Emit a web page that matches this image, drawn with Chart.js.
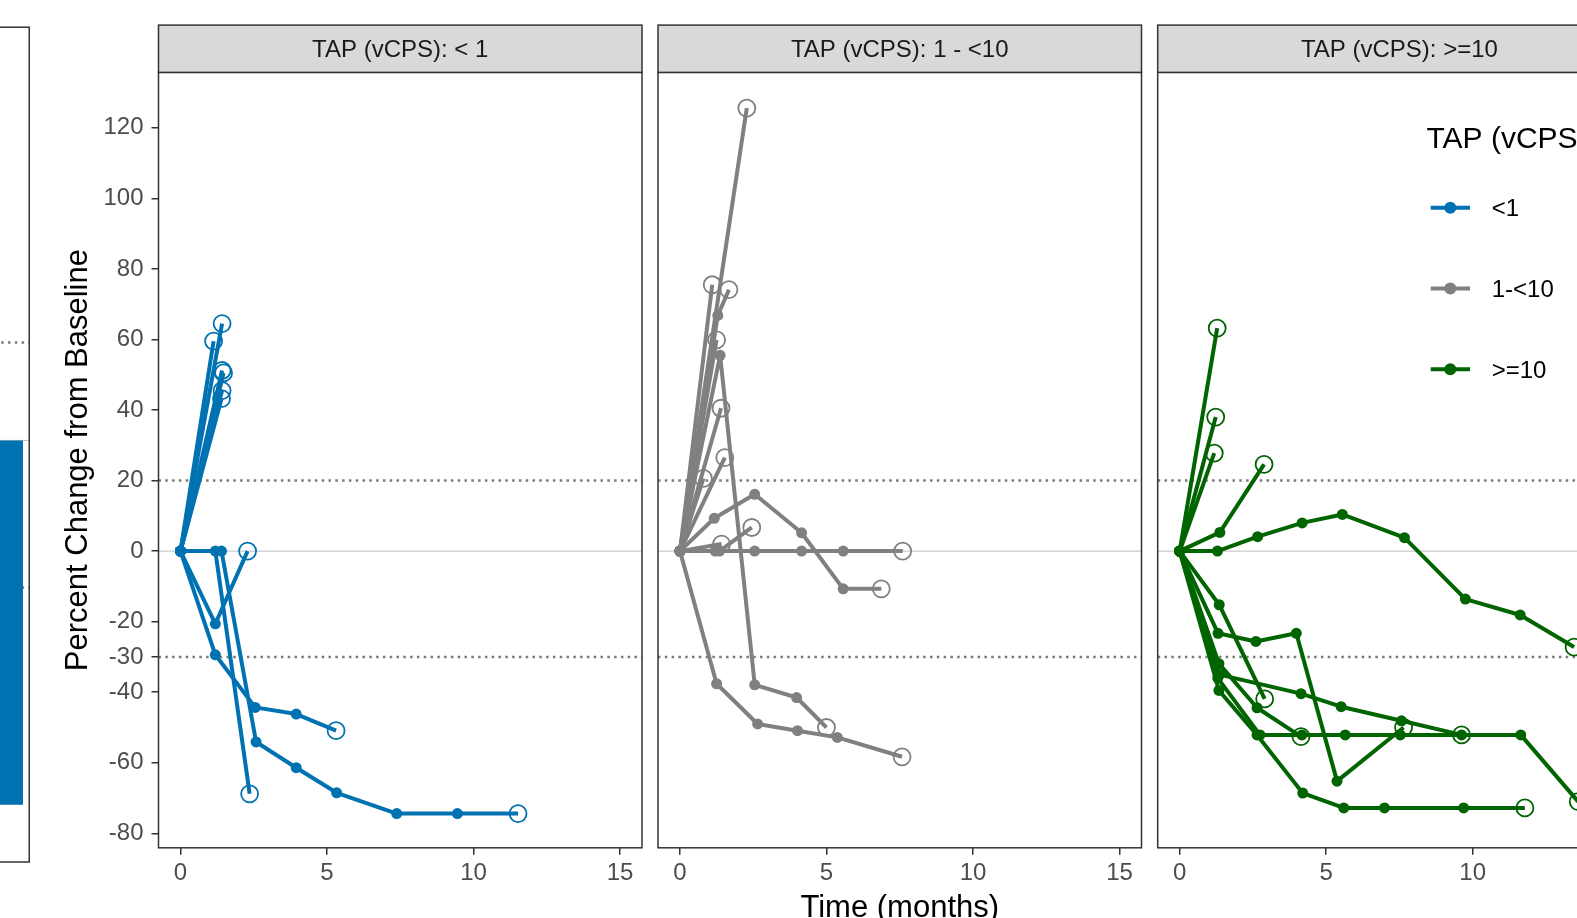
<!DOCTYPE html>
<html>
<head>
<meta charset="utf-8">
<script src="https://cdn.jsdelivr.net/npm/chart.js@4.4.1/dist/chart.umd.min.js"></script>
<style>
  html, body { margin: 0; padding: 0; background: #fff; overflow: hidden; width: 1577px; height: 918px; }
  canvas { position: absolute; top: 0; }
</style>
</head>
<body>
<canvas id="bars" width="90" height="918" style="left:-60px"></canvas>
<canvas id="p1" width="1700" height="960" style="left:0"></canvas>
<canvas id="p2" width="1700" height="960" style="left:0"></canvas>
<canvas id="p3" width="1700" height="960" style="left:0"></canvas>
<script>
// --- data ---
const xTicks = [0, 5, 10, 15];
const yTicks = [120, 100, 80, 60, 40, 20, 0, -20, -30, -40, -60, -80];
const refLines = [20, -30];
const groups = ['<1', '1-<10', '>=10'];
const groupColors = ['#0072B2', '#808080', '#006400'];
const stripLabels = ['TAP (vCPS): < 1', 'TAP (vCPS): 1 - <10', 'TAP (vCPS): >=10'];

// waterfall panel on the left (only its last bar is in view)
const barLabels = ['pt'];
const bestChange = [-74.3];

// TAP < 1
const lowTimes = [
  [0, 1.13], [0, 1.42], [0, 1.42], [0, 1.47], [0, 1.42], [0, 1.40],
  [0, 1.19, 2.36],
  [0, 1.40, 2.58, 3.95, 5.33, 7.38, 9.45, 11.52],
  [0, 1.19, 2.29],
  [0, 1.19, 2.55, 3.95, 5.31]
];
const lowChange = [
  [0, 59.5], [0, 64.5], [0, 51.2], [0, 50.5], [0, 45.5], [0, 43.2],
  [0, 0, -68.8],
  [0, 0, -54.1, -61.4, -68.5, -74.4, -74.4, -74.4],
  [0, -20.6, 0],
  [0, -29.4, -44.3, -46.2, -50.9]
];

// TAP 1 - <10
const midTimes = [
  [0, 2.28], [0, 1.10], [0, 1.29, 1.67], [0, 1.25],
  [0, 1.37, 2.55, 3.98, 5.0],
  [0, 1.40], [0, 1.53], [0, 0.80],
  [0, 1.17, 2.55, 4.15, 5.57, 6.87],
  [0, 1.2, 2.55, 4.15, 5.57, 7.6],
  [0, 1.35, 2.45], [0, 1.42],
  [0, 1.25, 2.65, 4.01, 5.37, 7.58]
];
const midChange = [
  [0, 125.6], [0, 75.5], [0, 66.8, 74.1], [0, 59.9],
  [0, 55.5, -37.9, -41.5, -50],
  [0, 40.5], [0, 26.5], [0, 20.6],
  [0, 9.3, 16.1, 5.2, -10.7, -10.7],
  [0, 0, 0, 0, 0, 0],
  [0, 0, 6.7], [0, 2],
  [0, -37.6, -49, -50.9, -52.8, -58.3]
];

// TAP >= 10
const highTimes = [
  [0, 1.28], [0, 1.23], [0, 1.18],
  [0, 1.37, 2.88],
  [0, 1.29, 2.66, 4.18, 5.55, 7.67, 9.75, 11.62, 13.46],
  [0, 1.35, 2.9],
  [0, 1.31, 2.6, 3.98, 5.37, 7.64],
  [0, 1.34, 2.64, 4.14],
  [0, 1.34, 2.64, 4.2, 5.6, 6.99, 9.69, 11.78],
  [0, 1.36, 4.14, 5.51, 7.57, 9.62],
  [0, 1.30, 2.74, 4.17, 5.65, 7.53, 9.62, 11.64, 13.6]
];
const highChange = [
  [0, 63.2], [0, 38], [0, 27.8],
  [0, 5.3, 24.6],
  [0, 0, 4.1, 8.0, 10.4, 3.8, -13.6, -18.1, -27.2],
  [0, -15.2, -41.9],
  [0, -23.3, -25.6, -23.3, -65.2, -50],
  [0, -31.9, -44.4, -52.6],
  [0, -39.5, -52.1, -68.6, -72.8, -72.8, -72.8, -72.8],
  [0, -35, -40.4, -44.1, -48.1, -52.1],
  [0, -36, -52.1, -52.1, -52.1, -52.1, -52.1, -52.1, -71]
];

const panelTimes = [lowTimes, midTimes, highTimes];
const panelChange = [lowChange, midChange, highChange];

// --- layout ---
const FONT = "'Liberation Sans', Arial, Helvetica, sans-serif";
const CW = 1700, CH = 960;
const panelLeft = [158.5, 658, 1157.7];
const panelWidth = 483.5;
const panelTop = 72.4, panelBottom = 847.8;
const stripTop = 25.1;
const yAxisW = 103, xAxisH = 81;

function hLines(chart) {
  const {ctx, chartArea: a, scales: {y}} = chart;
  ctx.save();
  ctx.beginPath();
  ctx.rect(a.left, a.top, a.right - a.left, a.bottom - a.top);
  ctx.clip();
  const y0 = y.getPixelForValue(0);
  ctx.strokeStyle = '#BEBEBE';
  ctx.lineWidth = 1;
  ctx.beginPath(); ctx.moveTo(a.left, y0); ctx.lineTo(a.right, y0); ctx.stroke();
  ctx.strokeStyle = '#7A7A7A';
  ctx.lineWidth = 2.5;
  ctx.setLineDash([2.5, 4.3]);
  refLines.forEach(v => {
    const p = y.getPixelForValue(v);
    ctx.beginPath(); ctx.moveTo(a.left, p); ctx.lineTo(a.right, p); ctx.stroke();
  });
  ctx.restore();
}

const panelDecor = {
  id: 'panelDecor',
  beforeDatasetsDraw(chart) { hLines(chart); },
  afterDraw(chart, args, opts) {
    const {ctx, chartArea: a} = chart;
    ctx.save();
    ctx.strokeStyle = '#333333';
    ctx.lineWidth = 1.5;
    ctx.strokeRect(a.left, a.top, a.right - a.left, a.bottom - a.top);
    if (opts.strip) {
      ctx.fillStyle = '#D9D9D9';
      ctx.fillRect(a.left, stripTop, a.right - a.left, a.top - stripTop);
      ctx.strokeRect(a.left, stripTop, a.right - a.left, a.top - stripTop);
      ctx.fillStyle = '#1A1A1A';
      ctx.font = `24px ${FONT}`;
      ctx.textAlign = 'center';
      ctx.textBaseline = 'alphabetic';
      ctx.fillText(opts.strip, (a.left + a.right) / 2, (stripTop + a.top) / 2 + 8.6);
    }
    if (opts.legend) {
      ctx.fillStyle = '#000';
      ctx.font = `30px ${FONT}`;
      ctx.textAlign = 'left';
      ctx.fillText('TAP (vCPS)', 1426.5, 148.3);
      ctx.font = `24px ${FONT}`;
      groups.forEach((g, i) => {
        const yy = 207.7 + i * 80.8;
        ctx.strokeStyle = groupColors[i];
        ctx.lineWidth = 4;
        ctx.beginPath(); ctx.moveTo(1430.7, yy); ctx.lineTo(1470, yy); ctx.stroke();
        ctx.fillStyle = groupColors[i];
        ctx.beginPath(); ctx.arc(1450.3, yy, 6, 0, Math.PI * 2); ctx.fill();
        ctx.fillStyle = '#000';
        ctx.fillText(g, 1491.7, yy + 8.6);
      });
    }
    ctx.restore();
  }
};

function subjectSets(times, changes, color) {
  const isLast = c => c.dataIndex === c.dataset.data.length - 1;
  return times.map((t, i) => ({
    data: t.map((x, j) => ({x, y: changes[i][j]})),
    showLine: true,
    borderColor: color,
    borderWidth: 4,
    borderJoinStyle: 'round',
    pointRadius: c => isLast(c) ? 8.5 : 5.5,
    pointBackgroundColor: c => isLast(c) ? 'rgba(0,0,0,0)' : color,
    pointBorderColor: color,
    pointBorderWidth: c => isLast(c) ? 1.8 : 0
  }));
}

function panelChart(i) {
  const left = panelLeft[i];
  const showY = i === 0;
  new Chart(document.getElementById('p' + (i + 1)), {
    type: 'scatter',
    data: { datasets: subjectSets(panelTimes[i], panelChange[i], groupColors[i]) },
    options: {
      responsive: false,
      animation: false,
      events: [],
      layout: {
        padding: {
          left: showY ? left - yAxisW : left,
          right: CW - left - panelWidth,
          top: panelTop,
          bottom: CH - panelBottom - xAxisH
        }
      },
      plugins: {
        legend: { display: false },
        tooltip: { enabled: false },
        panelDecor: { strip: stripLabels[i], legend: i === 2 }
      },
      scales: {
        x: {
          type: 'linear',
          min: -0.75,
          max: 15.75,
          afterBuildTicks: s => { s.ticks = xTicks.map(v => ({value: v})); },
          afterFit: s => { s.height = xAxisH; },
          grid: { drawOnChartArea: false, tickLength: 7, color: '#333333', lineWidth: 1.5 },
          border: { display: false },
          ticks: { font: { family: FONT, size: 24 }, color: '#4D4D4D', padding: 4, maxRotation: 0 },
          title: {
            display: i === 1,
            text: 'Time (months)',
            font: { family: FONT, size: 31 },
            color: '#000',
            padding: { top: 4, bottom: 2 }
          }
        },
        y: {
          display: showY,
          min: -84.1,
          max: 135.7,
          afterBuildTicks: s => { s.ticks = yTicks.map(v => ({value: v})); },
          afterFit: s => { if (showY) s.width = yAxisW; },
          grid: { drawOnChartArea: false, tickLength: 7, color: '#333333', lineWidth: 1.5 },
          border: { display: false },
          ticks: { font: { family: FONT, size: 24 }, color: '#4D4D4D', padding: 8 },
          title: {
            display: true,
            text: 'Percent Change from Baseline',
            font: { family: FONT, size: 31 },
            color: '#000',
            padding: { top: 4, bottom: 4 }
          }
        }
      }
    },
    plugins: [panelDecor]
  });
}

// left waterfall panel
const barDecor = {
  id: 'barDecor',
  beforeDatasetsDraw(chart) { hLines(chart); },
  afterDraw(chart) {
    const {ctx, chartArea: a} = chart;
    ctx.save();
    ctx.strokeStyle = '#333333';
    ctx.lineWidth = 1.5;
    ctx.strokeRect(a.left, a.top, a.right - a.left - 0.75, a.bottom - a.top);
    ctx.restore();
  }
};

new Chart(document.getElementById('bars'), {
  type: 'bar',
  data: {
    labels: barLabels,
    datasets: [{ data: bestChange, backgroundColor: groupColors[0], barPercentage: 0.844, categoryPercentage: 1 }]
  },
  options: {
    responsive: false,
    animation: false,
    events: [],
    layout: { padding: { top: 27.2, bottom: 56, left: 0, right: 0 } },
    plugins: { legend: { display: false }, tooltip: { enabled: false } },
    scales: {
      x: { display: false },
      y: { display: false, min: -86, max: 84.3 }
    }
  },
  plugins: [barDecor]
});

[0, 1, 2].forEach(panelChart);
</script>
</body>
</html>
